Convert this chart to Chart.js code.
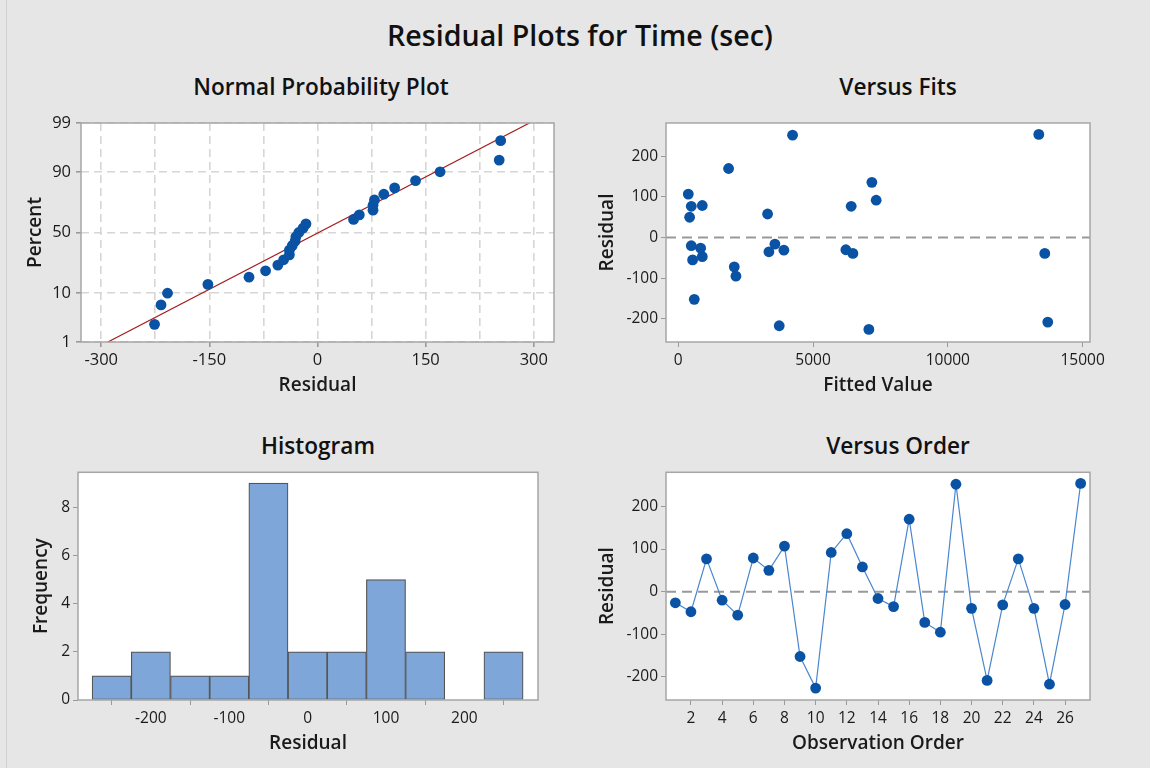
<!DOCTYPE html>
<html>
<head>
<meta charset="utf-8">
<script src="https://cdn.jsdelivr.net/npm/chart.js@4/dist/chart.umd.min.js"></script>
<style>
  html, body { margin: 0; padding: 0; }
  body { width: 1150px; height: 768px; background: #e6e6e6; position: relative; overflow: hidden; font-family: 'Open Sans', sans-serif; color: #111; }
  canvas { position: absolute; }
  .edge { position: absolute; left: 6px; top: 0; width: 1px; height: 768px; background: #d2d2d2; }
  .ttl { position: absolute; font-weight: 600; white-space: nowrap; transform: translateX(-50%); line-height: 1.362; }
  .main { font-size: 28.6px; }
  .sub { font-size: 22.6px; }
</style>
</head>
<body>
<div class="edge"></div>
<div class="ttl main" style="left:580px;top:16px">Residual Plots for Time (sec)</div>
<div class="ttl sub" style="left:321px;top:72px">Normal Probability Plot</div>
<div class="ttl sub" style="left:898px;top:72px">Versus Fits</div>
<div class="ttl sub" style="left:318px;top:431px">Histogram</div>
<div class="ttl sub" style="left:898px;top:431px">Versus Order</div>

<canvas id="c-prob" width="575" height="300" style="left:0;top:105px"></canvas>
<canvas id="c-fits" width="575" height="300" style="left:575px;top:105px"></canvas>
<canvas id="c-hist" width="575" height="300" style="left:0;top:460px"></canvas>
<canvas id="c-order" width="575" height="300" style="left:575px;top:460px"></canvas>

<script>
// residuals in observation order, and the fitted value of each observation
const residuals = [-26, -47, 77, -20, -55, 79, 50, 107, -152, -226, 92, 136, 58, -16, -35, 170, -72, -95, 252, -39, -208, -31, 77, -39, -217, -30, 254];
const fits = [828, 890, 482, 482, 531, 890, 420, 371, 593, 7070, 7342, 7182, 3313, 3585, 3362, 1866, 2077, 2138, 4240, 13597, 13708, 3918, 6415, 6477, 3745, 6217, 13375];

// histogram bins
const binCenters = [-250, -200, -150, -100, -50, 0, 50, 100, 150, 200, 250];
const binCounts  = [1, 2, 1, 1, 9, 2, 2, 5, 2, 0, 2];

// tick labels
const probPctTicks  = [1, 10, 50, 90, 99];
const probGridX     = [-300, -225, -150, -75, 0, 75, 150, 225, 300];
const residTicks    = [-200, -100, 0, 100, 200];
const fitTicks      = [0, 5000, 10000, 15000];
const histXTicks    = [-200, -100, 0, 100, 200];
const histYTicks    = [0, 2, 4, 6, 8];
const orderTicks    = [2, 4, 6, 8, 10, 12, 14, 16, 18, 20, 22, 24, 26];

const BLUE = '#0a52a3';
const TEXT = '#1a1a1a';
const FRAME = '#a6a6a6';
const TICK_SIZE = 15.5;

Chart.defaults.font.family = "'Open Sans', sans-serif";
Chart.defaults.color = TEXT;
Chart.defaults.animation = false;

// inverse normal cdf (Acklam)
function probit(p) {
  const a = [-39.69683028665376, 220.9460984245205, -275.9285104469687, 138.3577518672690, -30.66479806614716, 2.506628277459239];
  const b = [-54.47609879822406, 161.5858368580409, -155.6989798598866, 66.80131188771972, -13.28068155288572];
  const c = [-0.007784894002430293, -0.3223964580411365, -2.400758277161838, -2.549732539343734, 4.374664141464968, 2.938163982698783];
  const d = [0.007784695709041462, 0.3224671290700398, 2.445134137142996, 3.754408661907416];
  const pl = 0.02425;
  if (p < pl) {
    const q = Math.sqrt(-2 * Math.log(p));
    return (((((c[0]*q+c[1])*q+c[2])*q+c[3])*q+c[4])*q+c[5]) / ((((d[0]*q+d[1])*q+d[2])*q+d[3])*q+1);
  }
  if (p > 1 - pl) {
    const q = Math.sqrt(-2 * Math.log(1 - p));
    return -(((((c[0]*q+c[1])*q+c[2])*q+c[3])*q+c[4])*q+c[5]) / ((((d[0]*q+d[1])*q+d[2])*q+d[3])*q+1);
  }
  const q = p - 0.5, r = q * q;
  return (((((a[0]*r+a[1])*r+a[2])*r+a[3])*r+a[4])*r+a[5])*q / (((((b[0]*r+b[1])*r+b[2])*r+b[3])*r+b[4])*r+1);
}

// white plot area + grey frame, optional dashed zero line
const PlotBox = {
  id: 'plotBox',
  beforeDraw(chart) {
    const { ctx, chartArea: a } = chart;
    ctx.save();
    ctx.fillStyle = '#fff';
    ctx.fillRect(a.left, a.top, a.right - a.left, a.bottom - a.top);
    ctx.restore();
  },
  beforeDatasetsDraw(chart, args, opts) {
    if (!opts.zeroLine) return;
    const { ctx, chartArea: a } = chart;
    const y = chart.scales.y.getPixelForValue(0);
    ctx.save();
    ctx.strokeStyle = '#999';
    ctx.lineWidth = 2;
    ctx.setLineDash([10, 6]);
    ctx.beginPath();
    ctx.moveTo(a.left, y); ctx.lineTo(a.right, y);
    ctx.stroke();
    ctx.restore();
  },
  afterDraw(chart) {
    const { ctx, chartArea: a } = chart;
    ctx.save();
    ctx.strokeStyle = FRAME;
    ctx.lineWidth = 1.5;
    ctx.strokeRect(a.left, a.top, a.right - a.left, a.bottom - a.top);
    ctx.restore();
  }
};

function fixedTicks(list) {
  return scale => { scale.ticks = list.map(v => ({ value: v })); };
}

function axisTitle(text, pad) {
  return { display: true, text, font: { size: 19, weight: '600' }, color: TEXT, padding: pad };
}

function baseX(min, max, ticks, height, titleText, titlePad) {
  return {
    type: 'linear', min, max, offset: false,
    afterBuildTicks: fixedTicks(ticks),
    afterFit: s => { s.height = height; },
    grid: { drawOnChartArea: false, drawTicks: true, tickLength: 5, tickColor: '#999' },
    border: { display: false },
    ticks: { font: { size: TICK_SIZE }, color: TEXT, padding: 4, maxRotation: 0, autoSkip: false, callback: v => String(v) },
    title: axisTitle(titleText, { top: 0, bottom: titlePad })
  };
}

function baseY(min, max, ticks, width, titleText, titlePad) {
  return {
    type: 'linear', min, max,
    afterBuildTicks: fixedTicks(ticks),
    afterFit: s => { s.width = width; },
    grid: { drawOnChartArea: false, drawTicks: true, tickLength: 5, tickColor: '#999' },
    border: { display: false },
    ticks: { font: { size: TICK_SIZE }, color: TEXT, padding: 3, autoSkip: false, callback: v => String(v) },
    title: axisTitle(titleText, { top: titlePad, bottom: 0 })
  };
}

const common = {
  responsive: false, devicePixelRatio: 1, events: [],
  plugins: { legend: { display: false }, tooltip: { enabled: false } }
};

// ---------- Normal probability plot ----------
(function () {
  const n = residuals.length;
  const sorted = [...residuals].sort((a, b) => a - b);
  const pts = sorted.map((r, i) => ({ x: r, y: probit((i + 1 - 0.3) / (n + 0.4)) }));
  const mean = residuals.reduce((s, v) => s + v, 0) / n;
  const sd = Math.sqrt(residuals.reduce((s, v) => s + (v - mean) ** 2, 0) / (n - 1));
  const zLo = probit(probPctTicks[0] / 100), zHi = probit(probPctTicks[probPctTicks.length - 1] / 100);
  const fitLine = [{ x: mean + sd * zLo, y: zLo }, { x: mean + sd * zHi, y: zHi }];

  const x = baseX(-328, 328, probGridX, 63, 'Residual', 8);
  x.grid = { drawOnChartArea: true, drawTicks: true, tickLength: 5, color: '#d6d6d6', lineWidth: 1.6,
    tickColor: c => (c.tick && c.tick.value % 150 === 0) ? '#999' : 'rgba(0,0,0,0)' };
  x.border = { display: false, dash: [8, 5] };
  x.ticks.font = { size: 16.5 };
  x.ticks.padding = 3;
  x.ticks.callback = v => (v % 150 === 0 ? String(v) : '');

  const y = baseY(zLo, zHi, [], 81, 'Percent', 24);
  y.afterBuildTicks = s => { s.ticks = probPctTicks.map(p => ({ value: probit(p / 100) })); };
  y.grid = { drawOnChartArea: true, drawTicks: true, tickLength: 5, color: '#d6d6d6', lineWidth: 1.6, tickColor: '#999' };
  y.border = { display: false, dash: [8, 5] };
  y.ticks.font = { size: 16.5 };
  y.ticks.padding = 5;
  y.ticks.callback = (v, i) => String(probPctTicks[i]);

  new Chart(document.getElementById('c-prob'), {
    type: 'scatter',
    data: { datasets: [
      { data: pts, pointRadius: 5.4, pointBackgroundColor: BLUE, pointBorderColor: BLUE, pointBorderWidth: 0 },
      { data: fitLine, showLine: true, borderColor: '#a51c1c', borderWidth: 1.2, pointRadius: 0 }
    ] },
    options: { ...common, layout: { padding: { top: 18, right: 21, left: 0, bottom: 0 } },
      scales: { x, y }, plugins: { ...common.plugins, plotBox: {} } },
    plugins: [PlotBox]
  });
})();

// ---------- Versus fits ----------
new Chart(document.getElementById('c-fits'), {
  type: 'scatter',
  data: { datasets: [{ data: fits.map((f, i) => ({ x: f, y: residuals[i] })), pointRadius: 5.4, pointBackgroundColor: BLUE, pointBorderWidth: 0 }] },
  options: { ...common, layout: { padding: { top: 18, right: 60, left: 0, bottom: 0 } },
    scales: {
      x: baseX(-456, 15275, fitTicks, 63, 'Fitted Value', 8),
      y: baseY(-257, 282, residTicks, 91, 'Residual', 21)
    },
    plugins: { ...common.plugins, plotBox: { zeroLine: true } } },
  plugins: [PlotBox]
});

// ---------- Histogram ----------
new Chart(document.getElementById('c-hist'), {
  type: 'bar',
  data: { datasets: [{ data: binCenters.map((c, i) => ({ x: c, y: binCounts[i] })),
    backgroundColor: '#7ea6d8', borderColor: '#555', borderWidth: 1.2, borderSkipped: false,
    barPercentage: 1, categoryPercentage: 1 }] },
  options: { ...common, layout: { padding: { top: 11, right: 37, left: 0, bottom: 0 } },
    scales: {
      x: baseX(-293, 294, histXTicks, 60, 'Residual', 4.6),
      y: baseY(0, 9.45, histYTicks, 78, 'Frequency', 30)
    },
    plugins: { ...common.plugins, plotBox: {} } },
  plugins: [PlotBox]
});

// ---------- Versus order ----------
new Chart(document.getElementById('c-order'), {
  type: 'scatter',
  data: { datasets: [{ data: residuals.map((r, i) => ({ x: i + 1, y: r })), showLine: true,
    borderColor: '#4a86cf', borderWidth: 1.2, pointRadius: 5.4, pointBackgroundColor: BLUE, pointBorderWidth: 0 }] },
  options: { ...common, layout: { padding: { top: 11, right: 60, left: 0, bottom: 0 } },
    scales: {
      x: baseX(0.4, 27.6, orderTicks, 60, 'Observation Order', 4.6),
      y: baseY(-254, 280, residTicks, 91, 'Residual', 21)
    },
    plugins: { ...common.plugins, plotBox: { zeroLine: true } } },
  plugins: [PlotBox]
});
</script>
</body>
</html>
